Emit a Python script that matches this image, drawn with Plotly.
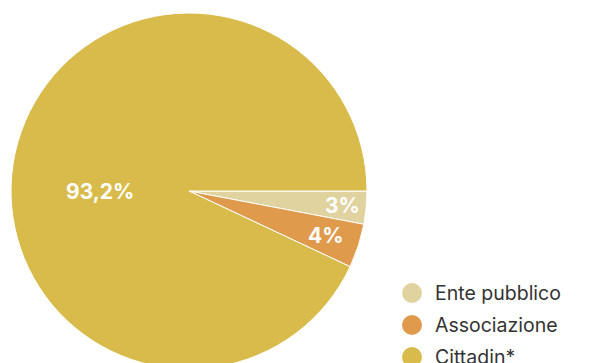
import math
import plotly.graph_objects as go

# Share of proposals by proponent type
categories = ["Ente pubblico", "Associazione", "Cittadin*"]
values = [3, 4, 93.2]
value_labels = ["3%", "4%", "93,2%"]
colors = ["#E0D3A0", "#DF9A4C", "#D9BB4B"]

W, H = 593, 380
CX, CY, R = 189, 191, 178  # pie centre / radius in pixels (from top-left)

fig = go.Figure()
fig.add_trace(go.Pie(
    labels=categories,
    values=values,
    sort=False,
    direction="clockwise",
    rotation=90,
    marker=dict(colors=colors, line=dict(color="white", width=1)),
    textinfo="none",
    hoverinfo="label+value",
    showlegend=False,
    domain=dict(x=[(CX - R) / W, (CX + R) / W],
                y=[1 - (CY + R) / H, 1 - (CY - R) / H]),
))

# value labels placed along each slice's bisector
label_radius = [0.865, 0.81, 0.5]
total = sum(values)
start = 0.0
annotations = []
for i, v in enumerate(values):
    span = 360 * v / total
    mid = start + span / 2
    if span > 180:
        mid = 180.0  # the dominant slice keeps its label on the horizontal axis
    ang = math.radians(mid)
    px = CX + label_radius[i] * R * math.cos(ang)
    py = CY + label_radius[i] * R * math.sin(ang)
    annotations.append(dict(
        x=px / W, y=1 - py / H, xref="paper", yref="paper",
        text=value_labels[i], showarrow=False,
        xanchor="center", yanchor="middle",
        font=dict(family="Inter, Roboto, sans-serif", size=21, color="white", weight="bold"),
    ))
    start += span

# legend: round swatches with labels
shapes = []
LX, LY0, LDY = 412, 293, 32
for i, name in enumerate(categories):
    ly = LY0 + i * LDY
    shapes.append(dict(
        type="circle", xref="paper", yref="paper",
        xsizemode="pixel", ysizemode="pixel",
        xanchor=LX / W, yanchor=1 - ly / H,
        x0=-10, x1=10, y0=-10, y1=10,
        fillcolor=colors[i], line=dict(width=0),
    ))
    annotations.append(dict(
        x=(LX + 21) / W, y=1 - ly / H, xref="paper", yref="paper",
        text=name, showarrow=False, xanchor="left", yanchor="middle",
        font=dict(family="Inter, Roboto, sans-serif", size=19.5, color="#333333"),
    ))

fig.update_layout(
    width=W, height=H,
    margin=dict(l=0, r=0, t=0, b=0),
    paper_bgcolor="white", plot_bgcolor="white",
    annotations=annotations, shapes=shapes,
)

fig.write_html("out.html")
